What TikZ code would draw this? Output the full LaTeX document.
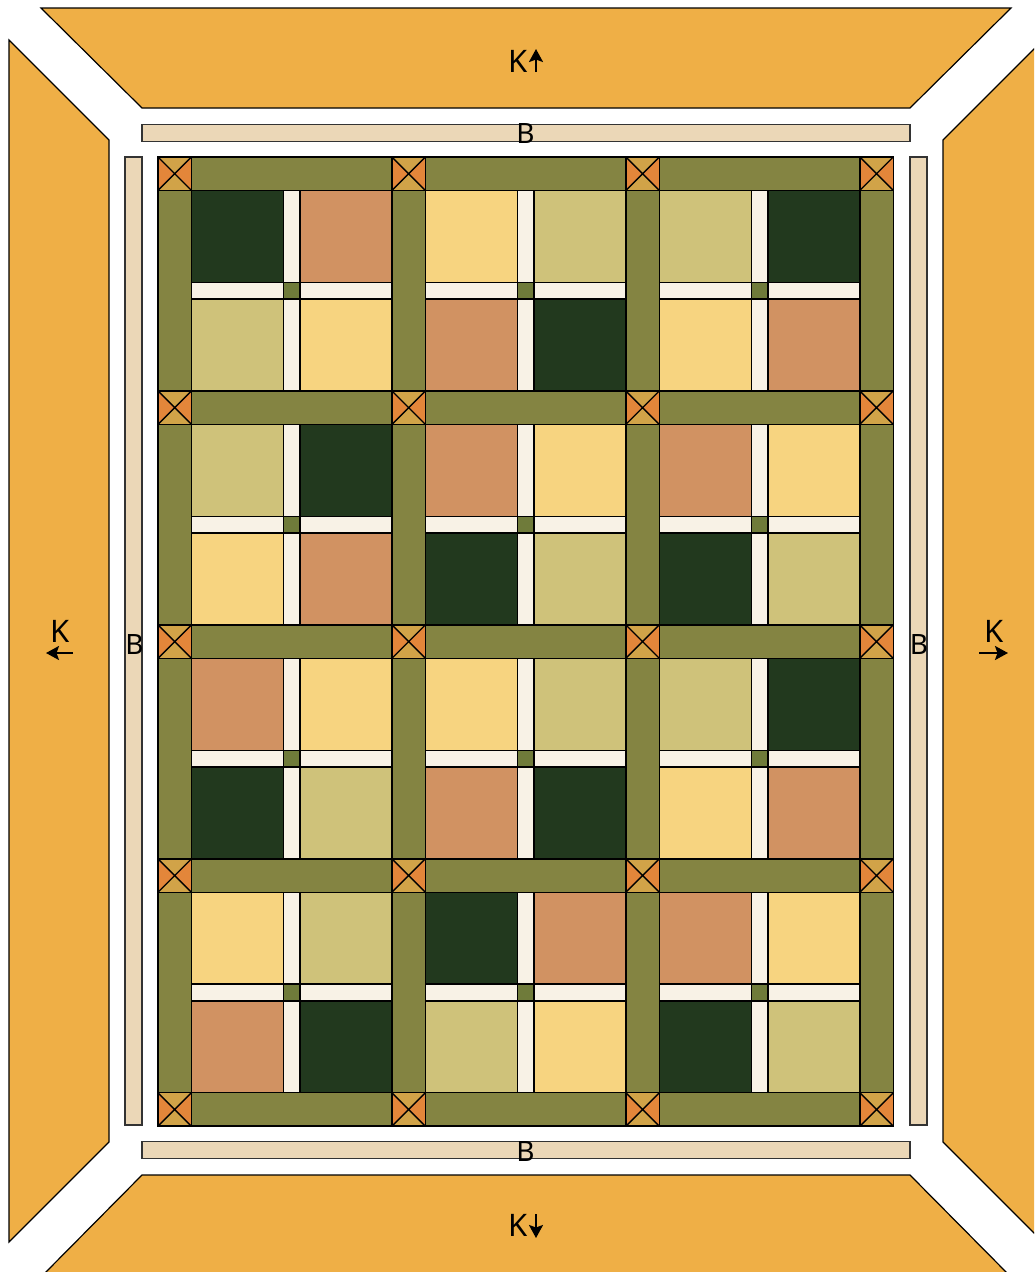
\documentclass[tikz,border=0pt]{standalone}
\usepackage{fontspec}
\setmainfont{Noto Sans}
\usetikzlibrary{arrows.meta}
\definecolor{borderK}{HTML}{EFAF46}
\definecolor{stripB}{HTML}{EBD7B7}
\definecolor{olive}{HTML}{848442}
\definecolor{dgreen}{HTML}{22391E}
\definecolor{terra}{HTML}{D19262}
\definecolor{yel}{HTML}{F7D480}
\definecolor{khaki}{HTML}{CFC27A}
\definecolor{cream}{HTML}{F8F2E6}
\definecolor{ctr}{HTML}{6F7B3A}
\definecolor{cgold}{HTML}{D1A348}
\definecolor{corange}{HTML}{E3863A}
\tikzset{
  q/.style={draw=black, line width=1.4pt},
  kpiece/.style={draw=black, line width=1.2pt, fill=borderK},
  bpiece/.style={draw=black!80, line width=1.2pt, fill=stripB},
  klab/.style={font=\fontsize{31}{31}\selectfont, anchor=base, inner sep=0pt},
  blab/.style={font=\fontsize{28}{28}\selectfont, anchor=base, inner sep=0pt},
  arr/.style={line width=2.2pt, -{Stealth[length=13pt,width=14pt,inset=2.5pt]}}
}
\newcommand\qblock[6]{%
  \begin{scope}[shift={(#1,#2)}]
    \filldraw[q, fill=#3] (0,0) rectangle (5.5,5.5);
    \filldraw[q, fill=#4] (6.5,0) rectangle (12,5.5);
    \filldraw[q, fill=#5] (0,6.5) rectangle (5.5,12);
    \filldraw[q, fill=#6] (6.5,6.5) rectangle (12,12);
    \filldraw[q, fill=cream] (5.5,0) rectangle (6.5,5.5);
    \filldraw[q, fill=cream] (5.5,6.5) rectangle (6.5,12);
    \filldraw[q, fill=cream] (0,5.5) rectangle (5.5,6.5);
    \filldraw[q, fill=cream] (6.5,5.5) rectangle (12,6.5);
    \filldraw[q, fill=ctr] (5.5,5.5) rectangle (6.5,6.5);
  \end{scope}}
% top right bottom left
\newcommand\cstone[6]{%
  \begin{scope}[shift={(#1,#2)}]
    \fill[#3] (0,0) -- (2,0) -- (1,1) -- cycle;
    \fill[#4] (2,0) -- (2,2) -- (1,1) -- cycle;
    \fill[#5] (2,2) -- (0,2) -- (1,1) -- cycle;
    \fill[#6] (0,2) -- (0,0) -- (1,1) -- cycle;
    \draw[q] (0,0) rectangle (2,2);
    \draw[q] (0,0) -- (2,2) (2,0) -- (0,2);
  \end{scope}}
\begin{document}
\begin{tikzpicture}[x=1pt, y=-1pt]
\useasboundingbox (0,0) rectangle (1034,1272);
\clip (0,0) rectangle (1034,1272);
\fill[white] (0,0) rectangle (1034,1272);
% outer K borders
\filldraw[kpiece] (41,8) -- (1011,8) -- (910,108) -- (142,108) -- cycle;
\filldraw[kpiece] (142,1175) -- (910,1175) -- (1010,1276) -- (42,1276) -- cycle;
\filldraw[kpiece] (9,40) -- (109,140) -- (109,1142) -- (9,1242) -- cycle;
\filldraw[kpiece] (1043,40) -- (943,140) -- (943,1142) -- (1043,1242) -- cycle;
% B strips
\filldraw[bpiece] (142,124.5) rectangle (910,141.5);
\filldraw[bpiece] (142,1141.5) rectangle (910,1158.5);
\filldraw[bpiece] (125,157) rectangle (142,1125);
\filldraw[bpiece] (910,157) rectangle (927,1125);
% quilt centre
\begin{scope}[shift={(158,157)}]
\begin{scope}[x=16.71pt, y=-16.71pt]
  % sashing
  \foreach \i in {0,1,2}{\foreach \j in {0,...,4}{
    \filldraw[q, fill=olive] ({2+14*\i},{14*\j}) rectangle ({14+14*\i},{14*\j+2});}}
  \foreach \i in {0,...,3}{\foreach \j in {0,...,3}{
    \filldraw[q, fill=olive] ({14*\i},{2+14*\j}) rectangle ({14*\i+2},{14+14*\j});}}
  % blocks: TL TR BL BR
  \qblock{2}{2}{dgreen}{terra}{khaki}{yel}
  \qblock{16}{2}{yel}{khaki}{terra}{dgreen}
  \qblock{30}{2}{khaki}{dgreen}{yel}{terra}
  \qblock{2}{16}{khaki}{dgreen}{yel}{terra}
  \qblock{16}{16}{terra}{yel}{dgreen}{khaki}
  \qblock{30}{16}{terra}{yel}{dgreen}{khaki}
  \qblock{2}{30}{terra}{yel}{dgreen}{khaki}
  \qblock{16}{30}{yel}{khaki}{terra}{dgreen}
  \qblock{30}{30}{khaki}{dgreen}{yel}{terra}
  \qblock{2}{44}{yel}{khaki}{terra}{dgreen}
  \qblock{16}{44}{dgreen}{terra}{khaki}{yel}
  \qblock{30}{44}{terra}{yel}{dgreen}{khaki}
  % cornerstones
  \foreach \i in {0,...,3}{\foreach \j in {0,...,4}{
    \cstone{14*\i}{14*\j}{cgold}{corange}{cgold}{corange}}}
\end{scope}
\end{scope}
% labels
\node[klab] (kt) at (518,72) {K};
\node[klab] (kb) at (518.5,1236) {K};
\node[klab] (kl) at (60,642) {K};
\node[klab] (kr) at (994,642) {K};
\node[blab] (bt) at (525.5,143) {B};
\node[blab] (bb) at (525.5,1161) {B};
\node[blab] (bl) at (134.5,654) {B};
\node[blab] (br) at (919,654) {B};
% direction arrows
\coordinate (at0) at (536,72); \coordinate (at1) at (536,49);
\coordinate (ab0) at (536,1214); \coordinate (ab1) at (536,1238);
\coordinate (al0) at (73,653); \coordinate (al1) at (46,653);
\coordinate (ar0) at (979,653); \coordinate (ar1) at (1008,653);
\draw[arr] (at0) -- (at1);
\draw[arr] (ab0) -- (ab1);
\draw[arr] (al0) -- (al1);
\draw[arr] (ar0) -- (ar1);
\end{tikzpicture}
\end{document}
